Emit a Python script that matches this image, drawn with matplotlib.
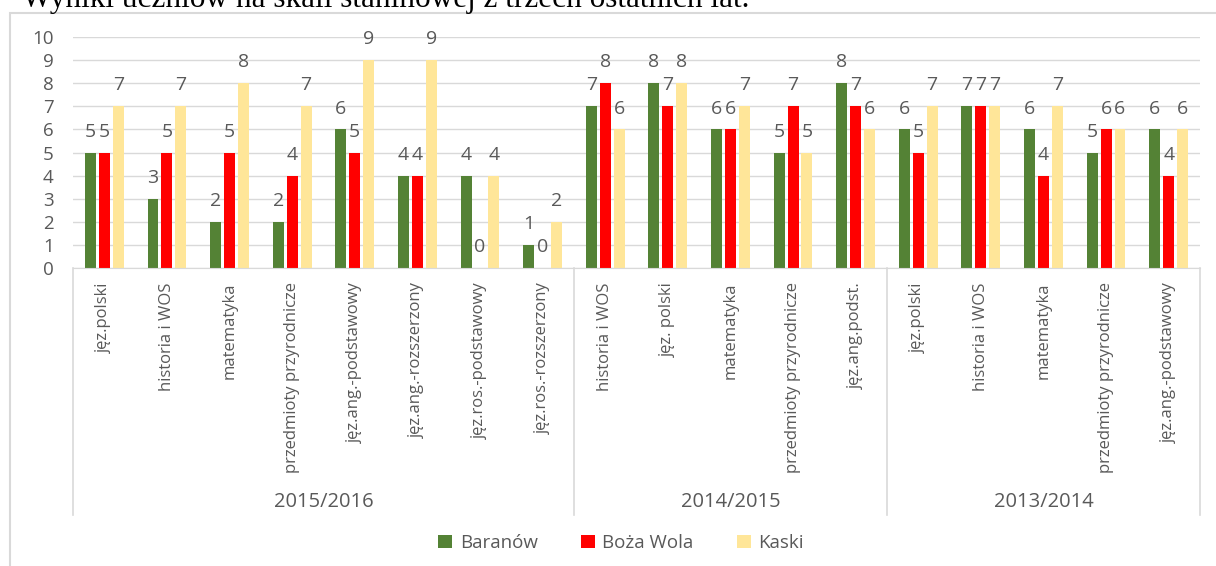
import matplotlib.pyplot as plt
from matplotlib.patches import Rectangle
import numpy as np

# dane: wyniki na skali staninowej
years = ["2015/2016", "2014/2015", "2013/2014"]
subjects_2016 = ["jęz.polski", "historia i WOS", "matematyka", "przedmioty przyrodnicze",
                 "jęz.ang.-podstawowy", "jęz.ang.-rozszerzony", "jęz.ros.-podstawowy",
                 "jęz.ros.-rozszerzony"]
subjects_2015 = ["historia i WOS", "jęz. polski", "matematyka", "przedmioty przyrodnicze",
                 "jęz.ang.podst."]
subjects_2014 = ["jęz.polski", "historia i WOS", "matematyka", "przedmioty przyrodnicze",
                 "jęz.ang.-podstawowy"]

baranow = [5, 3, 2, 2, 6, 4, 4, 1,   7, 8, 6, 5, 8,   6, 7, 6, 5, 6]
boza_wola = [5, 5, 5, 4, 5, 4, 0, 0,   8, 7, 6, 7, 7,   5, 7, 4, 6, 4]
kaski = [7, 7, 8, 7, 9, 9, 4, 2,   6, 8, 7, 5, 6,   7, 7, 7, 6, 6]

series = [("Baranów", baranow, "#548235"),
          ("Boża Wola", boza_wola, "#FF0000"),
          ("Kaski", kaski, "#FFE699")]

labels = subjects_2016 + subjects_2015 + subjects_2014
group_sizes = [len(subjects_2016), len(subjects_2015), len(subjects_2014)]

txt = "#595959"
font = "Open Sans"

fig = plt.figure(figsize=(12.16, 5.66), dpi=100)
ax = fig.add_axes([73 / 1216, 1 - 268 / 566, 1127 / 1216, (268 - 37) / 566])

# ramka wykresu
fig.patches.append(Rectangle((10 / 1216, -0.01), 1.1, 1 - 13 / 566 + 0.01,
                             transform=fig.transFigure, fill=False,
                             edgecolor="#D9D9D9", linewidth=1.5))

# naglowek, u gory uciety jak na oryginale
fig.text(22 / 1216, 1 - 7 / 566, "Wyniki uczniów na skali staninowej z trzech ostatnich lat.",
         family="Liberation Serif", fontsize=22.5, color="black", va="baseline", ha="left")

x = np.arange(len(labels))
width = 0.175
step = 0.222
for i, (name, vals, col) in enumerate(series):
    pos = x + (i - 1) * step
    ax.bar(pos, vals, width, color=col, label=name, zorder=2)
    for p, v in zip(pos, vals):
        ax.annotate(str(v), (p, v), xytext=(0, 15), textcoords="offset points",
                    ha="center", va="center", fontsize=14, color=txt, family=font)

ax.set_xlim(-0.5, len(labels) - 0.5)
ax.set_ylim(0, 10)
ax.set_yticks(range(0, 11))
ax.tick_params(axis="y", length=0, pad=14, labelsize=13.5, labelcolor=txt)
ax.set_yticklabels([str(t) for t in range(11)], family=font)
ax.grid(axis="y", color="#D9D9D9", linewidth=1, zorder=0)
for s in ["top", "right", "left"]:
    ax.spines[s].set_visible(False)
ax.spines["bottom"].set_color("#D9D9D9")
ax.set_xticks([])

# etykiety kategorii
for xi, lab in zip(x, labels):
    ax.text(xi, -0.62, lab, rotation=90, ha="center", va="top", fontsize=12,
            color=txt, family=font, clip_on=False)

# separatory grup i nazwy lat
bounds = np.concatenate([[0], np.cumsum(group_sizes)]) - 0.5
for b in bounds:
    ax.plot([b, b], [0, -10.7], color="#D9D9D9", linewidth=1.2, clip_on=False)
for k, yr in enumerate(years):
    mid = (bounds[k] + bounds[k + 1]) / 2
    ax.text(mid, -10.15, yr, ha="center", va="center", fontsize=14.5, color=txt,
            family=font, clip_on=False)

leg = fig.legend(loc="center", bbox_to_anchor=(621 / 1216, 1 - 543 / 566), ncol=3,
                 frameon=False, handlelength=0.75, handleheight=0.75, handletextpad=0.4,
                 columnspacing=2.3, prop={"family": font, "size": 13.5})
for t in leg.get_texts():
    t.set_color(txt)

fig.savefig("out.png", dpi=100)
